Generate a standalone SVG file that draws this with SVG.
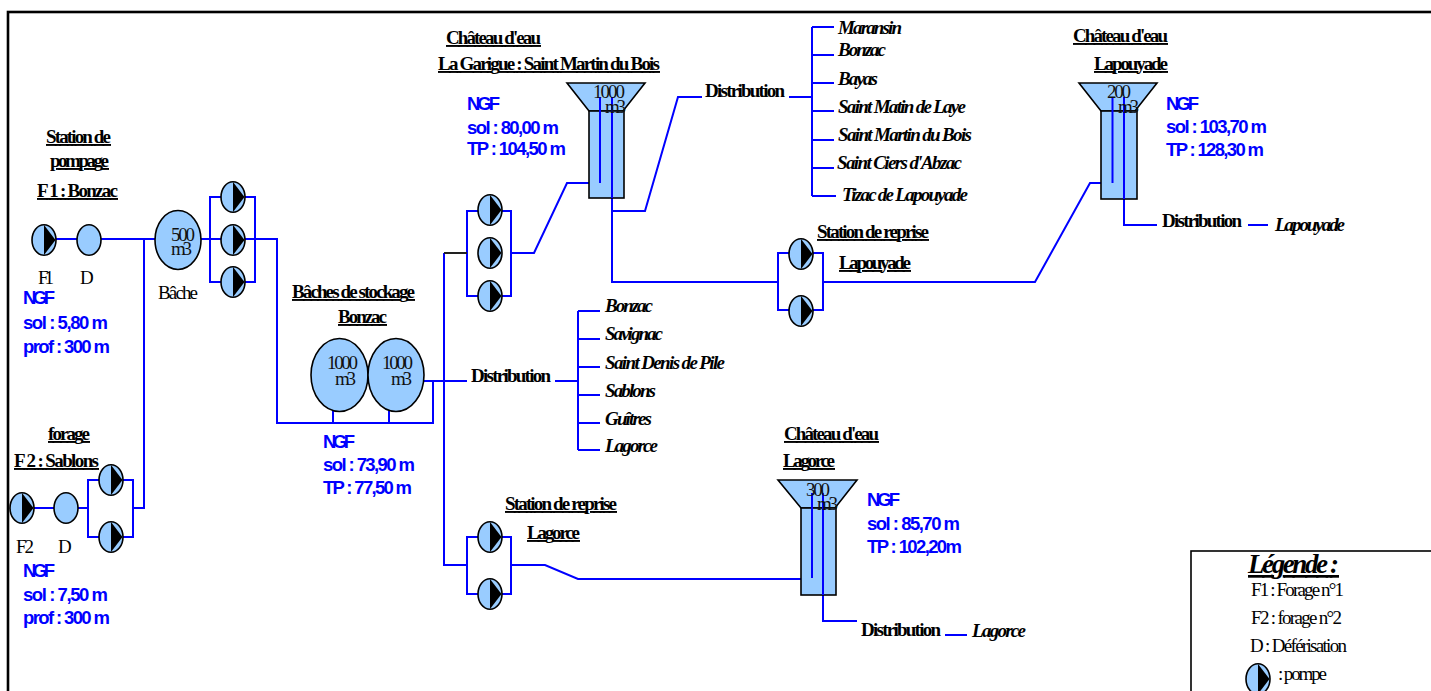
<svg xmlns="http://www.w3.org/2000/svg" xmlns:xlink="http://www.w3.org/1999/xlink" width="1431" height="691" viewBox="0 0 1431 691">
<style>
.c{fill:none;stroke:#0000ff;stroke-width:2;stroke-linejoin:miter}
.s{fill:#99ccff;stroke:#000;stroke-width:1.6}
text{font-family:"Liberation Serif","Times New Roman",serif;fill:#000}
.h{font-weight:bold;font-size:19px;text-decoration:underline}
.d{font-weight:bold;font-size:19px}
.i{font-weight:bold;font-style:italic;font-size:19px}
.n{font-size:19px}
.v{font-size:19px;fill:#111}
.b{font-family:"Liberation Sans",Arial,sans-serif;font-weight:bold;font-size:18.500px;fill:#0000ff}
</style>
<defs>
<g id="pump"><ellipse class="s" cx="0" cy="0" rx="12" ry="15.300"/><path d="M0,-15 L11.500,0 L0,15 Z" fill="#000"/></g>
<ellipse id="disc" class="s" cx="0" cy="0" rx="12" ry="15.300"/>
</defs>
<rect id="frame" x="8" y="12" width="1430" height="690" fill="#fff" stroke="#000" stroke-width="2.600"/>
<g id="connectors">
<path class="c" d="M44,239H178M144,239V508H133M88,480H133V537H88ZM33,508H55M77,508H88"/>
<path class="c" d="M199,239H277V423H433V381M210,197H255V282H210ZM423,381H467M333,411V423M389,411V423"/>
<path class="c" d="M444,566V253M467,211H511V296H467ZM511,253H534L567,183H600V97M612,97V282H778M612,211H645L678,97H702"/>
<path d="M444,253H467" fill="none" stroke="#222" stroke-width="2"/>
<path class="c" d="M789,97H812M812,27V196M812,27H834M812,55H834M812,83H834M812,111H834M812,140H834M812,168H834M812,196H836"/>
<path class="c" d="M555,381H578M578,311V450M578,311H600M578,339H600M578,367H600M578,395H600M578,423H600M578,450H600"/>
<path class="c" d="M778,253H823V310H778ZM823,282H1035L1090,183H1112.500V97M1124,97V225H1157M1248,225H1268"/>
<path class="c" d="M444,565H467M467,537H511V594H467ZM511,565H545L578,579H812V493M823,493V621H857M945,635H967"/>
</g>
<g id="f1"><use xlink:href="#pump" href="#pump" x="44" y="240"/><text class="n" x="38" y="284" textLength="16">F1</text><text class="h" x="46" y="143" textLength="65">Station de</text><text class="h" x="50" y="167" textLength="59">pompage</text><text class="h" x="37" y="197" textLength="81">F 1 : Bonzac</text><text class="b" x="23" y="304" textLength="32">NGF</text><text class="b" x="23" y="329" textLength="85">sol : 5,80 m</text><text class="b" x="23" y="353" textLength="87">prof : 300 m</text></g>
<g id="d1"><use xlink:href="#disc" href="#disc" x="89" y="240"/><text class="n" x="80" y="284" textLength="13">D</text></g>
<g id="bache"><ellipse class="s" cx="178" cy="240" rx="23" ry="29.500"/><text class="v" x="171" y="241" textLength="24">500</text><text class="v" x="171" y="255" textLength="21">m3</text><text class="n" x="158" y="299" textLength="40">Bâche</text></g>
<g id="p1"><use xlink:href="#pump" href="#pump" x="233" y="197"/></g>
<g id="p2"><use xlink:href="#pump" href="#pump" x="233" y="240"/></g>
<g id="p3"><use xlink:href="#pump" href="#pump" x="233" y="282"/></g>
<g id="f2"><use xlink:href="#pump" href="#pump" x="22" y="508"/><text class="h" x="48" y="440" textLength="42">forage</text><text class="h" x="14" y="467" textLength="85">F 2 : Sablons</text><text class="n" x="16" y="553" textLength="18">F2</text><text class="b" x="23" y="577" textLength="32">NGF</text><text class="b" x="23" y="601" textLength="85">sol : 7,50 m</text><text class="b" x="23" y="624" textLength="87">prof : 300 m</text></g>
<g id="d2"><use xlink:href="#disc" href="#disc" x="66" y="508"/><text class="n" x="58" y="553" textLength="13">D</text></g>
<g id="p4"><use xlink:href="#pump" href="#pump" x="111" y="480"/></g>
<g id="p5"><use xlink:href="#pump" href="#pump" x="111" y="537"/></g>
<g id="baches"><ellipse class="s" cx="339.500" cy="375" rx="28.500" ry="36.500"/><ellipse class="s" cx="396" cy="375" rx="28" ry="36.500"/><text class="v" x="327" y="369" textLength="31">1000</text><text class="v" x="335" y="385" textLength="21">m3</text><text class="v" x="382" y="369" textLength="31">1000</text><text class="v" x="391" y="385" textLength="21">m3</text><text class="h" x="292" y="298" textLength="123">Bâches de stockage</text><text class="h" x="338" y="323" textLength="49">Bonzac</text><text class="b" x="323" y="448" textLength="32">NGF</text><text class="b" x="323" y="471" textLength="92">sol : 73,90 m</text><text class="b" x="323" y="494" textLength="89">TP : 77,50 m</text></g>
<g id="p6"><use xlink:href="#pump" href="#pump" x="490" y="210"/></g>
<g id="p7"><use xlink:href="#pump" href="#pump" x="490" y="253"/></g>
<g id="p8"><use xlink:href="#pump" href="#pump" x="490" y="296"/></g>
<g id="tank1"><path class="s" d="M567,83H645L623,111H589Z"/><rect class="s" x="589" y="111" width="35" height="87"/><path class="c" d="M600,97V183M612,97V198"/><text class="v" x="593" y="98" textLength="32">1000</text><text class="v" x="605" y="113" textLength="21">m3</text><text class="h" x="446" y="44" textLength="95">Château d'eau</text><text class="h" x="438" y="70" textLength="222">La Garigue : Saint Martin du Bois</text><text class="b" x="467" y="110" textLength="33">NGF</text><text class="b" x="467" y="134" textLength="92">sol : 80,00 m</text><text class="b" x="467" y="155" textLength="99">TP : 104,50 m</text></g>
<g id="tank2"><path class="s" d="M1079,83H1157L1135,111H1101Z"/><rect class="s" x="1101" y="111" width="36" height="88"/><path class="c" d="M1112.500,97V183M1124,97V199"/><text class="v" x="1107" y="98" textLength="24">200</text><text class="v" x="1118" y="113" textLength="21">m3</text><text class="h" x="1073" y="42" textLength="95">Château d'eau</text><text class="h" x="1094" y="70" textLength="74">Lapouyade</text><text class="b" x="1166" y="110" textLength="33">NGF</text><text class="b" x="1166" y="133" textLength="101">sol : 103,70 m</text><text class="b" x="1166" y="156" textLength="98">TP : 128,30 m</text></g>
<g id="tank3"><path class="s" d="M778,480H857L835,508H801Z"/><rect class="s" x="801" y="508" width="35" height="87"/><path class="c" d="M812,493V578M823,493V595"/><text class="v" x="806" y="496" textLength="24">300</text><text class="v" x="817" y="510" textLength="21">m3</text><text class="h" x="784" y="440" textLength="95">Château d'eau</text><text class="h" x="783" y="467" textLength="52">Lagorce</text><text class="b" x="867" y="506" textLength="33">NGF</text><text class="b" x="867" y="530" textLength="93">sol : 85,70 m</text><text class="b" x="867" y="553" textLength="95">TP : 102,20m</text></g>
<g id="dist1"><text class="d" x="705" y="97" textLength="80">Distribution</text><text class="i" x="838" y="34" textLength="64">Maransin</text><text class="i" x="838" y="56" textLength="48">Bonzac</text><text class="i" x="838" y="85" textLength="40">Bayas</text><text class="i" x="838" y="113" textLength="128">Saint Matin de Laye</text><text class="i" x="838" y="141" textLength="134">Saint Martin du Bois</text><text class="i" x="837" y="169" textLength="125">Saint Ciers d'Abzac</text><text class="i" x="842" y="201" textLength="126">Tizac de Lapouyade</text></g>
<g id="dist2"><text class="d" x="471" y="382" textLength="80">Distribution</text><text class="i" x="605" y="312" textLength="48">Bonzac</text><text class="i" x="605" y="340" textLength="58">Savignac</text><text class="i" x="605" y="369" textLength="120">Saint Denis de Pile</text><text class="i" x="605" y="397" textLength="51">Sablons</text><text class="i" x="605" y="425" textLength="47">Guîtres</text><text class="i" x="605" y="452" textLength="53">Lagorce</text></g>
<g id="dist3"><text class="d" x="1162" y="227" textLength="80">Distribution</text><text class="i" x="1275" y="231" textLength="70">Lapouyade</text></g>
<g id="dist4"><text class="d" x="861" y="636" textLength="80">Distribution</text><text class="i" x="972" y="637" textLength="54">Lagorce</text></g>
<g id="sr1"><use xlink:href="#pump" href="#pump" x="801" y="254"/><use xlink:href="#pump" href="#pump" x="801" y="311"/><text class="h" x="817" y="238" textLength="112">Station de reprise</text><text class="h" x="839" y="269" textLength="72">Lapouyade</text></g>
<g id="sr2"><use xlink:href="#pump" href="#pump" x="490" y="537"/><use xlink:href="#pump" href="#pump" x="490" y="594"/><text class="h" x="505" y="510" textLength="112">Station de reprise</text><text class="h" x="527" y="539" textLength="53">Lagorce</text></g>
<g id="legende"><rect x="1191" y="551" width="250" height="150" fill="#fff" stroke="#000" stroke-width="1.600"/><text x="1248" y="573" textLength="91" style="font-weight:bold;font-style:italic;font-size:27px;text-decoration:underline">Légende :</text><text class="n" x="1251" y="596" textLength="93">F1 : Forage n°1</text><text class="n" x="1251" y="624" textLength="91">F2 : forage n°2</text><text class="n" x="1250" y="652" textLength="97">D : Déférisation</text><use xlink:href="#pump" href="#pump" x="1258" y="679"/><text class="n" x="1278" y="680" textLength="49">: pompe</text></g>
</svg>
